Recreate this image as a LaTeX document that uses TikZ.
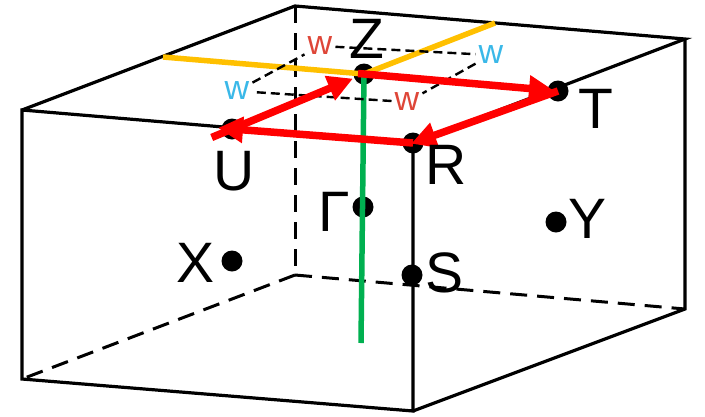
\documentclass[tikz,border=0pt]{standalone}
\usepackage{fontspec}
\setmainfont{Liberation Sans}
\usetikzlibrary{arrows.meta}
\definecolor{redarrow}{RGB}{255,0,0}
\definecolor{wred}{RGB}{222,70,56}
\definecolor{wcyan}{RGB}{58,184,232}
\definecolor{gline}{RGB}{0,176,80}
\definecolor{yline}{RGB}{255,192,0}
\begin{document}
\begin{tikzpicture}[x=1pt,y=-1pt,
  edge/.style={line width=3.2pt},
  hidden/.style={line width=3pt, dash pattern=on 17pt off 10pt},
  dot/.style={circle, fill=black, minimum size=21pt, inner sep=0pt},
  lab/.style={font=\fontsize{57}{60}\selectfont, inner sep=0pt},
  wlab/.style={font=\fontsize{34}{36}\selectfont, inner sep=3pt},
  wdash/.style={line width=2.4pt, dash pattern=on 9pt off 5pt},
  redpath/.style={draw=redarrow, line width=7.5pt, -{Triangle[length=25pt,width=25pt]}},
]
\useasboundingbox (0,0) rectangle (705,416);
% box corners
\coordinate (F1) at (22,110);
\coordinate (F2) at (413,143);
\coordinate (F3) at (413,411);
\coordinate (F4) at (22,379);
\coordinate (B1) at (295,6);
\coordinate (B2) at (685,39);
\coordinate (B3) at (685,309);
\coordinate (B4) at (295,275);
% hidden edges
\draw[hidden] (B1) -- (B4);
\draw[hidden] (B4) -- (B3);
\draw[hidden] (B4) -- (F4);
% visible edges
\draw[edge] (F1) -- (F2) -- (F3) -- (F4) -- cycle;
\draw[edge] (F1) -- (B1) -- (B2) -- (F2);
\draw[edge] (B2) -- (B3) -- (F3);
% points
\node[dot] (Z) at (364,74) {};
\node[dot] (T) at (558,91) {};
\node[dot] (U) at (232,129) {};
\node[dot] (R) at (413,143) {};
\node[dot] (G) at (363,207) {};
\node[dot] (S) at (412,275) {};
\node[dot] (X) at (232,261) {};
\node[dot] (Y) at (556,222) {};
% green line
\coordinate (Gend) at (361,343);
\draw[gline, line width=5.5pt] (Z.center) -- (Gend);
% yellow line
\coordinate (Y1) at (163,57);
\coordinate (Y2) at (495,23);
\draw[yline, line width=5.5pt] (Y1) -- (Z.center) -- (Y2);
% w labels and dashed parallelogram
\node[wlab, text=wred] (w1) at (320,46) {w};
\node[wlab, text=wcyan] (w2) at (491,55) {w};
\node[wlab, text=wred] (w3) at (407,102) {w};
\node[wlab, text=wcyan] (w4) at (237,91) {w};
\draw[wdash] (w1) -- (w2);
\draw[wdash] (w2) -- (w3);
\draw[wdash] (w3) -- (w4);
\draw[wdash] (w4) -- (w1);
% red loop
\draw[redpath, shorten <=-22pt, shorten >=12pt] (U.center) -- (Z.center);
\draw[redpath, shorten <=-6pt, shorten >=4pt] (Z.center) -- (T.center);
\draw[redpath, shorten >=-2pt] (T.center) -- (R.center);
\draw[redpath, shorten >=-14pt] (R.center) -- (U.center);
% labels
\node[lab] (Zl) at (367,39) {Z};
\node[lab] (Tl) at (596,109) {T};
\node[lab] (Ul) at (234,171) {U};
\node[lab] (Rl) at (446,165) {R};
\node[lab] (Gl) at (334,212) {Γ};
\node[lab] (Sl) at (445,273) {S};
\node[lab] (Xl) at (196,263) {X};
\node[lab] (Yl) at (588,219) {Y};
\end{tikzpicture}
\end{document}
